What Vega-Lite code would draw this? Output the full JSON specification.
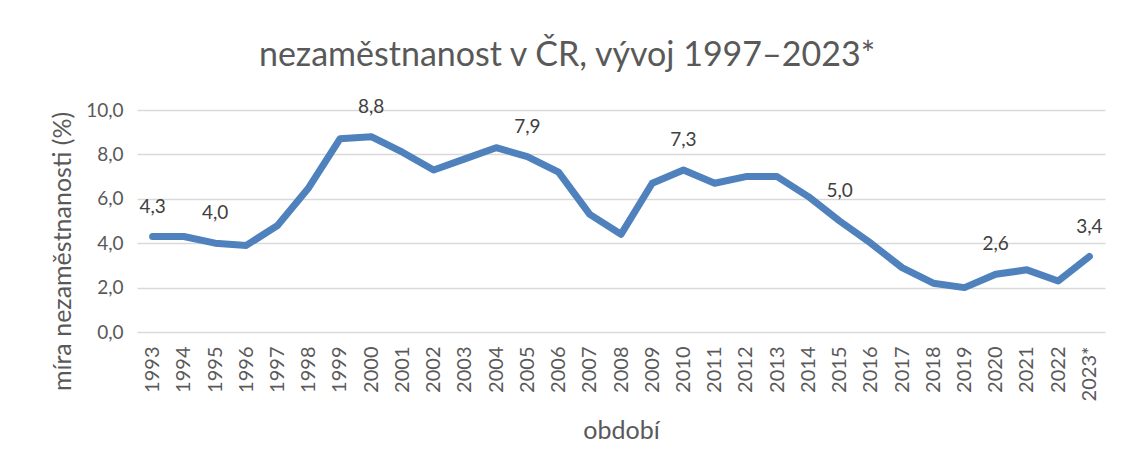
{
  "$schema": "https://vega.github.io/schema/vega-lite/v6.json",
  "autosize": "none",
  "padding": {"left": 137, "top": 110, "right": 16, "bottom": 143},
  "width": 968,
  "height": 222,
  "background": "white",
  "config": {
    "view": {"stroke": null},
    "font": "Lato",
    "locale": {"number": {"decimal": ",", "thousands": " ", "grouping": [3], "currency": ["", " Kč"]}}
  },
  "title": {
    "text": "nezaměstnanost v ČR, vývoj 1997–2023*",
    "font": "Lato",
    "fontSize": 34,
    "fontWeight": "normal",
    "color": "#595959",
    "anchor": "middle",
    "frame": "group",
    "dx": -54,
    "offset": 25
  },
  "data": {
    "values": [
      {"year": "1993", "rate": 4.3},
      {"year": "1994", "rate": 4.3},
      {"year": "1995", "rate": 4.0},
      {"year": "1996", "rate": 3.9},
      {"year": "1997", "rate": 4.8},
      {"year": "1998", "rate": 6.5},
      {"year": "1999", "rate": 8.7},
      {"year": "2000", "rate": 8.8},
      {"year": "2001", "rate": 8.1},
      {"year": "2002", "rate": 7.3},
      {"year": "2003", "rate": 7.8},
      {"year": "2004", "rate": 8.3},
      {"year": "2005", "rate": 7.9},
      {"year": "2006", "rate": 7.2},
      {"year": "2007", "rate": 5.3},
      {"year": "2008", "rate": 4.4},
      {"year": "2009", "rate": 6.7},
      {"year": "2010", "rate": 7.3},
      {"year": "2011", "rate": 6.7},
      {"year": "2012", "rate": 7.0},
      {"year": "2013", "rate": 7.0},
      {"year": "2014", "rate": 6.1},
      {"year": "2015", "rate": 5.0},
      {"year": "2016", "rate": 4.0},
      {"year": "2017", "rate": 2.9},
      {"year": "2018", "rate": 2.2},
      {"year": "2019", "rate": 2.0},
      {"year": "2020", "rate": 2.6},
      {"year": "2021", "rate": 2.8},
      {"year": "2022", "rate": 2.3},
      {"year": "2023*", "rate": 3.4}
    ]
  },
  "encoding": {
    "x": {
      "field": "year",
      "type": "ordinal",
      "sort": null,
      "scale": {"padding": 0.5},
      "axis": {
        "title": "období",
        "titleFont": "Lato",
        "titleFontSize": 25,
        "titleFontWeight": "normal",
        "titleColor": "#595959",
        "titlePadding": 18,
        "labelAngle": -90,
        "labelFont": "Lato",
        "labelFontSize": 20,
        "labelColor": "#595959",
        "labelPadding": 14,
        "ticks": false,
        "domain": false,
        "grid": false
      }
    },
    "y": {
      "field": "rate",
      "type": "quantitative",
      "scale": {"domain": [0, 10], "nice": false},
      "axis": {
        "values": [0, 2, 4, 6, 8, 10],
        "format": ".1f",
        "title": "míra nezaměstnanosti (%)",
        "titleFont": "Lato",
        "titleFontSize": 25,
        "titleFontWeight": "normal",
        "titleColor": "#595959",
        "titlePadding": 10,
        "titleY": 141,
        "labelFont": "Lato",
        "labelFontSize": 19,
        "labelColor": "#595959",
        "labelPadding": 14,
        "ticks": false,
        "domain": false,
        "grid": true,
        "gridColor": "#d9d9d9",
        "gridWidth": 1.5
      }
    }
  },
  "layer": [
    {
      "mark": {"type": "line", "color": "#4f81bd", "strokeWidth": 7, "strokeCap": "round", "strokeJoin": "round"}
    },
    {
      "transform": [{"filter": {"field": "year", "oneOf": ["1993", "1995", "2000", "2005", "2010", "2015", "2020", "2023*"]}}],
      "mark": {"type": "text", "font": "Lato", "fontSize": 19, "color": "#404040", "dy": -30, "baseline": "middle"},
      "encoding": {
        "text": {"field": "rate", "type": "quantitative", "format": ".1f"}
      }
    }
  ]
}
